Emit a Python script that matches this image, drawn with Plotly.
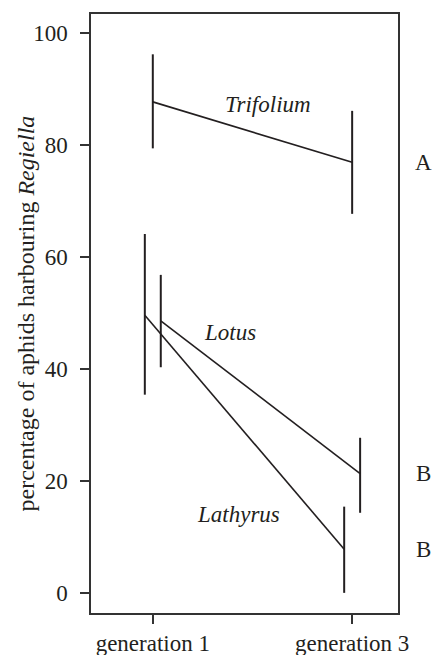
import plotly.graph_objects as go

generations = ["generation 1", "generation 3"]
species = ["Trifolium", "Lotus", "Lathyrus"]
mean_pct = {
    "Trifolium": [87.7, 76.9],
    "Lotus": [48.6, 21.3],
    "Lathyrus": [49.6, 7.8],
}
upper_pct = {
    "Trifolium": [96.2, 86.1],
    "Lotus": [56.8, 27.7],
    "Lathyrus": [64.1, 15.4],
}
lower_pct = {
    "Trifolium": [79.4, 67.7],
    "Lotus": [40.3, 14.3],
    "Lathyrus": [35.4, 0.0],
}
group_letters = ["A", "B", "B"]  # for Trifolium, Lotus, Lathyrus at generation 3

# layout-only settings
dodge = {"Trifolium": 0.0, "Lotus": 0.04, "Lathyrus": -0.04}
label_pos = {"Trifolium": (1.578, 87.2), "Lotus": (1.387, 46.5), "Lathyrus": (1.432, 14.0)}

FONT = "Liberation Serif"
INK = "#231f20"
FS = 23

fig = go.Figure()
gen_x = [1, 2]
for sp in species:
    xs = [g + dodge[sp] for g in gen_x]
    m = mean_pct[sp]
    up = [u - v for u, v in zip(upper_pct[sp], m)]
    dn = [v - l for v, l in zip(m, lower_pct[sp])]
    fig.add_trace(go.Scatter(
        x=xs, y=m, mode="lines",
        line=dict(color=INK, width=1.6),
        error_y=dict(type="data", symmetric=False, array=up, arrayminus=dn,
                     width=0, thickness=2, color=INK),
        showlegend=False, hoverinfo="skip",
    ))
    lx, ly = label_pos[sp]
    fig.add_annotation(x=lx, y=ly, xref="x", yref="y", text=f"<i>{sp}</i>",
                       showarrow=False, font=dict(family=FONT, size=FS, color=INK))

for sp, letter in zip(species, group_letters):
    fig.add_annotation(x=(423 - 91) / 307, y=mean_pct[sp][1], xref="paper", yref="y",
                       text=letter, showarrow=False, xanchor="center",
                       font=dict(family=FONT, size=FS, color=INK))

fig.add_annotation(x=(25 - 91) / 307, y=0.5, xref="paper", yref="paper",
                   text="percentage of aphids harbouring <i>Regiella</i>",
                   textangle=-90, showarrow=False, xanchor="center", yanchor="middle",
                   font=dict(family=FONT, size=24, color=INK))

axis_common = dict(showline=True, linecolor="#333333", linewidth=1.5, mirror=True,
                   ticks="outside", ticklen=9, tickwidth=1.5, tickcolor="#333333",
                   showgrid=False, zeroline=False, automargin=False,
                   tickfont=dict(family=FONT, size=FS, color=INK))

fig.update_layout(
    width=433, height=655,
    margin=dict(l=91, r=35, t=14, b=42, autoexpand=False),
    plot_bgcolor="white", paper_bgcolor="white",
    xaxis=dict(range=[0.69, 2.23], tickmode="array", tickvals=gen_x, ticktext=generations,
               **axis_common),
    yaxis=dict(range=[-3.6, 103.4], tickmode="array", tickvals=[0, 20, 40, 60, 80, 100],
               ticklabelstandoff=8, **axis_common),
)

fig.write_html("out.html", config={"displayModeBar": False},
               post_script="document.body.style.margin='0';document.body.style.overflow='hidden';")
